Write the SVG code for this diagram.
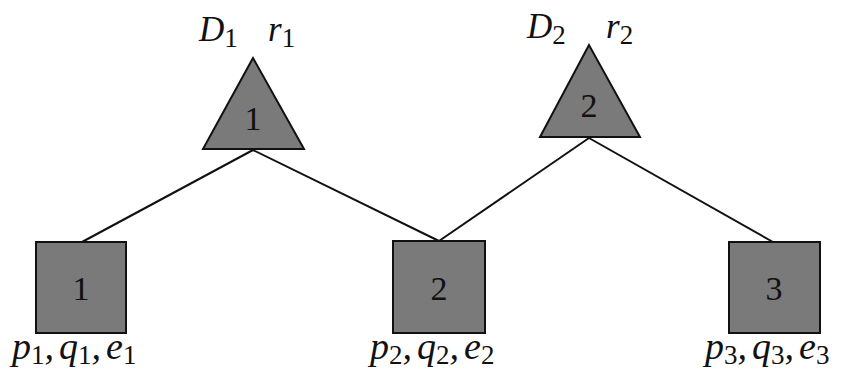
<svg xmlns="http://www.w3.org/2000/svg" width="846" height="375" viewBox="0 0 846 375">
<style>
.shape{fill:#7a7a7a;stroke:#111;stroke-width:2}
.num{font-family:"Liberation Serif",serif;font-size:34px;fill:#111;text-anchor:middle}
.math{font-family:"Liberation Serif",serif;font-style:italic;font-size:35px;fill:#111}
.lab{font-family:"Liberation Serif",serif;font-style:italic;font-size:38px;fill:#111}
.sub{font-style:normal;font-size:27px}
.edge{stroke:#111;stroke-width:2;fill:none}
</style>
<rect width="846" height="375" fill="#fff"/>
<g id="connectors">
<line class="edge" x1="253" y1="150" x2="82" y2="242"/>
<line class="edge" x1="253" y1="150" x2="439" y2="241"/>
<line class="edge" x1="589" y1="138" x2="439" y2="241"/>
<line class="edge" x1="589" y1="138" x2="773" y2="242"/>
</g>
<g id="depot1">
<polygon class="shape" points="253,58 203,149 304,149"/>
<text class="num" x="253" y="130">1</text>
<text class="math" x="199" y="41">D<tspan class="sub" dy="6">1</tspan></text>
<text class="math" x="268" y="41">r<tspan class="sub" dy="6">1</tspan></text>
</g>
<g id="depot2">
<polygon class="shape" points="589,45 540,137 640,137"/>
<text class="num" x="589" y="117">2</text>
<text class="math" x="527" y="38">D<tspan class="sub" dy="6">2</tspan></text>
<text class="math" x="606" y="38">r<tspan class="sub" dy="6">2</tspan></text>
</g>
<g id="customer1">
<rect class="shape" x="36" y="242" width="90" height="91"/>
<text class="num" x="81" y="300">1</text>
<text class="lab" x="12" y="359">p<tspan class="sub" dy="5">1</tspan><tspan dy="-5">,</tspan><tspan dx="5">q</tspan><tspan class="sub" dy="5">1</tspan><tspan dy="-5">,</tspan><tspan dx="5">e</tspan><tspan class="sub" dy="5">1</tspan></text>
</g>
<g id="customer2">
<rect class="shape" x="393" y="241" width="92" height="92"/>
<text class="num" x="439" y="300">2</text>
<text class="lab" x="370" y="359">p<tspan class="sub" dy="5">2</tspan><tspan dy="-5">,</tspan><tspan dx="5">q</tspan><tspan class="sub" dy="5">2</tspan><tspan dy="-5">,</tspan><tspan dx="5">e</tspan><tspan class="sub" dy="5">2</tspan></text>
</g>
<g id="customer3">
<rect class="shape" x="729" y="242" width="91" height="91"/>
<text class="num" x="774" y="300">3</text>
<text class="lab" x="705" y="359">p<tspan class="sub" dy="5">3</tspan><tspan dy="-5">,</tspan><tspan dx="5">q</tspan><tspan class="sub" dy="5">3</tspan><tspan dy="-5">,</tspan><tspan dx="5">e</tspan><tspan class="sub" dy="5">3</tspan></text>
</g>
</svg>
